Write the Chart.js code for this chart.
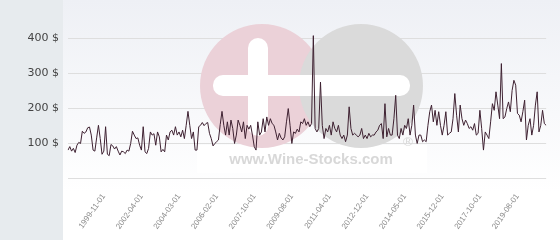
<!DOCTYPE html>
<html>
<head>
<meta charset="utf-8">
<script src="https://cdn.jsdelivr.net/npm/chart.js@4.4.1/dist/chart.umd.min.js"></script>
<style>
  html, body { margin: 0; padding: 0; background: #ffffff; }
  canvas { display: block; }
</style>
</head>
<body>
<canvas id="chart" width="560" height="240"></canvas>
<script>
// price per bottle, one value per sale date
var prices = [
  80, 90, 77, 85, 73, 94, 102, 99, 134, 128, 132, 144, 146, 123, 80, 77, 115, 151, 113, 68,
  77, 147, 68, 64, 96, 92, 83, 90, 77, 66, 77, 75, 70, 80, 77, 99, 134, 123, 113, 115,
  94, 80, 147,
  75, 70, 85, 132, 123, 127, 94, 132, 118, 75, 82, 75, 123, 109, 132, 137, 123, 147, 123, 132,
  118, 137, 113, 151, 191, 151, 113, 132, 80, 80, 147, 151, 159, 150, 156, 159, 128, 113, 92, 99,
  104, 109, 153, 191, 151, 123,
  161, 123, 166, 142, 99, 123, 166, 151, 132, 161, 113, 151, 140, 151, 123, 90, 80, 161, 123, 132,
  170, 132, 175, 151, 170, 156, 151, 132, 109, 128, 115, 109, 118, 161, 199, 151, 99, 132, 128, 140,
  132, 161, 156, 170, 151, 161,
  147, 156, 408, 142, 132, 142, 275, 151, 113, 142, 132, 151, 123, 161, 142, 132, 151, 123, 113, 123,
  104, 123, 204, 142, 123, 128, 123, 118, 123, 142, 113, 123, 113, 128, 118, 123, 123, 132, 137, 151,
  156, 113, 213, 118, 142, 123,
  123, 170, 237, 123, 113, 142, 123, 151, 142, 170, 123, 151, 209, 123, 99, 123, 123, 104, 109, 104,
  151, 190, 209, 161, 194, 151, 190, 151, 123, 151, 190, 123, 128, 132, 170, 242, 180, 132, 209, 170,
  151, 166, 156, 142, 147,
  137, 156, 123, 128, 194, 142, 80, 132, 123, 113, 161, 213, 194, 247, 209, 170, 328, 170, 175, 199,
  218, 190, 251, 280, 266, 185, 180, 161, 190, 223, 109, 151, 170, 123, 151, 209, 247, 132, 151, 194,
  156, 151
];

// dates shown on the x axis and the sale they belong to
var tickLabels = ['1999-11-01', '2002-04-01', '2004-03-01', '2006-02-01', '2007-10-01', '2009-08-01',
                  '2011-04-01', '2012-12-01', '2014-05-01', '2015-12-01', '2017-10-01', '2019-08-01'];
var tickIndex = [20, 41, 62, 83, 104, 125, 146, 167, 188, 209, 230, 251];

var yTicks = [0, 100, 200, 300, 400];

var labels = prices.map(function (v, i) {
  var k = tickIndex.indexOf(i);
  return k >= 0 ? tickLabels[k] : '';
});

var backdrop = {
  id: 'backdrop',
  beforeDraw: function (chart) {
    var ctx = chart.ctx;
    ctx.save();
    ctx.fillStyle = '#e7ebee';
    ctx.fillRect(0, 0, 63, chart.height);
    var g = ctx.createLinearGradient(0, 0, 0, chart.height);
    g.addColorStop(0, '#eef0f5');
    g.addColorStop(0.8, '#ffffff');
    ctx.fillStyle = g;
    ctx.fillRect(63, 0, chart.width - 63, chart.height);
    ctx.restore();
  },
  beforeDatasetsDraw: function (chart) {
    // wine-stocks watermark
    var ctx = chart.ctx;
    ctx.save();
    ctx.fillStyle = '#ffffff';
    ctx.fillRect(197, 145, 230, 28);
    ctx.fillStyle = '#ebd1d8';
    ctx.beginPath(); ctx.arc(262, 86, 62, 0, Math.PI * 2); ctx.fill();
    ctx.fillStyle = '#dadada';
    ctx.beginPath(); ctx.arc(361, 86, 62, 0, Math.PI * 2); ctx.fill();
    ctx.fillStyle = '#ffffff';
    ctx.beginPath(); ctx.roundRect(248, 38, 20, 98, 10); ctx.fill();
    ctx.beginPath(); ctx.roundRect(213, 75, 197, 21, 10); ctx.fill();
    ctx.fillStyle = '#d8d8d8';
    ctx.font = 'bold 15px "Liberation Sans", Arial, sans-serif';
    ctx.textAlign = 'center';
    ctx.textBaseline = 'middle';
    ctx.fillText('www.Wine-Stocks.com', 311, 160);
    ctx.font = '13px "DejaVu Sans", sans-serif';
    ctx.fillText('\u00ae', 408, 143);
    ctx.restore();
  }
};

new Chart(document.getElementById('chart'), {
  type: 'line',
  data: {
    labels: labels,
    datasets: [{
      data: prices,
      borderColor: '#3e2131',
      borderWidth: 1,
      pointRadius: 0,
      tension: 0,
      fill: false
    }]
  },
  options: {
    responsive: false,
    animation: false,
    devicePixelRatio: 1,
    layout: { padding: { top: 21, right: 5, left: 0, bottom: 0 } },
    plugins: { legend: { display: false }, tooltip: { enabled: false } },
    scales: {
      x: {
        type: 'category',
        grid: { display: false },
        border: { display: false },
        afterFit: function (s) { s.height = 62; },
        ticks: {
          autoSkip: false,
          maxRotation: 55,
          minRotation: 55,
          padding: 6,
          color: '#8a8a8a',
          font: { family: '"Liberation Sans", Arial, sans-serif', size: 8 }
        }
      },
      y: {
        min: 0,
        max: 450,
        afterFit: function (s) { s.width = 68; },
        afterBuildTicks: function (s) {
          s.ticks = yTicks.map(function (v) { return { value: v }; });
        },
        grid: { color: '#dedede', lineWidth: 1, drawTicks: false },
        border: { display: false },
        ticks: {
          padding: 9,
          color: '#444444',
          font: { family: '"DejaVu Sans", sans-serif', size: 11 },
          callback: function (v) { return v === 0 ? '' : v + ' $'; }
        }
      }
    }
  },
  plugins: [backdrop]
});
</script>
</body>
</html>
